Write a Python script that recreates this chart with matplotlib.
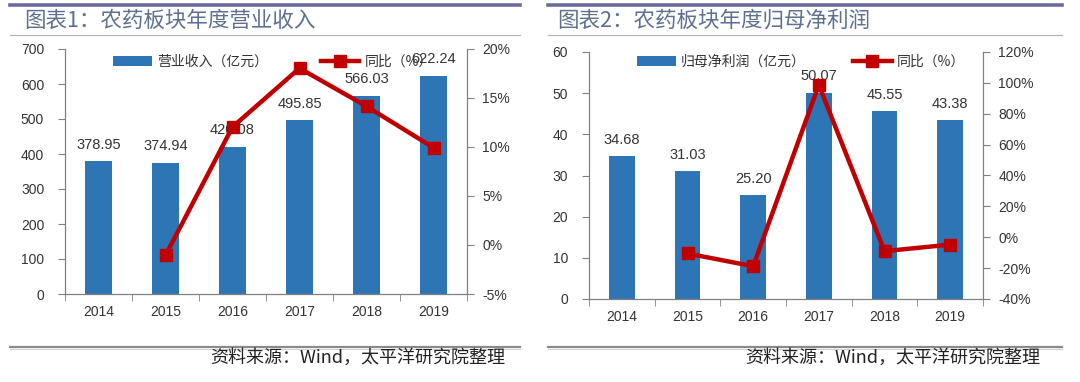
import matplotlib
matplotlib.use('Agg')
import matplotlib.pyplot as plt
from matplotlib.lines import Line2D
from matplotlib.ticker import FuncFormatter, MultipleLocator, FixedLocator
import numpy as np

plt.rcParams['font.family'] = ['Liberation Sans', 'Noto Sans CJK SC', 'DejaVu Sans']

# ---------------- data ----------------
years = ['2014', '2015', '2016', '2017', '2018', '2019']
revenue = [378.95, 374.94, 420.08, 495.85, 566.03, 622.24]
revenue_yoy = [np.nan, -1.06, 12.04, 18.04, 14.15, 9.93]
profit = [34.68, 31.03, 25.20, 50.07, 45.55, 43.38]
profit_yoy = [np.nan, -10.52, -18.79, 98.69, -9.03, -4.76]

titles = ['图表1：农药板块年度营业收入', '图表2：农药板块年度归母净利润']
bar_names = ['营业收入（亿元）', '归母净利润（亿元）']
line_name = '同比（%）'
source_text = '资料来源：Wind，太平洋研究院整理'

BAR_C = '#2e75b6'
LINE_C = '#c00000'
TITLE_C = '#5d7090'
TOP_C = '#6c6c9c'
GRID_GRAY = '#808080'
TXT = '#333333'

W, H = 1080, 382
fig = plt.figure(figsize=(W / 100, H / 100), dpi=100)


def px_axes(x0, y0, x1, y1):
    return fig.add_axes([x0 / W, 1 - y1 / H, (x1 - x0) / W, (y1 - y0) / H])


def hline(x0, x1, y, color, lw):
    fig.add_artist(Line2D([x0 / W, x1 / W], [1 - y / H, 1 - y / H],
                          transform=fig.transFigure, color=color, lw=lw))


def panel(box, bars, yoy, ylim, ystep, y2lim, y2step, title, bar_name,
          frame, title_x, src_right, leg_anchor, colsp):
    fx0, fx1 = frame
    # decorative lines
    hline(fx0, fx1, 4.5, TOP_C, 2.6)
    hline(fx0, fx1, 34.5, '#b0b0b0', 0.8)
    hline(fx0, fx1, 346.5, '#8a8a8a', 1.6)
    hline(fx0, fx1, 348.5, '#d0d0d0', 0.8)
    fig.text(title_x / W, 1 - 21 / H, title, fontsize=15.5, color=TITLE_C,
             va='center', ha='left', family=['Noto Sans CJK SC'])
    fig.text(src_right / W, 1 - 358 / H, source_text, fontsize=13, color='#222222',
             va='center', ha='right', family=['Noto Sans CJK SC'])

    ax = px_axes(*box)
    x = np.arange(len(years))
    b = ax.bar(x, bars, width=0.39, color=BAR_C, zorder=2, label=bar_name)
    for xi, v in zip(x, bars):
        ax.annotate(f'{v:.2f}', (xi, v), xytext=(0, 7), textcoords='offset points',
                    ha='center', va='bottom', fontsize=10.5, color=TXT)
    ax.set_xlim(-0.5, len(years) - 0.5)
    ax.set_ylim(*ylim)
    ax.yaxis.set_major_locator(MultipleLocator(ystep))
    ax.set_xticks(x)
    ax.set_xticklabels(years)
    ax.xaxis.set_minor_locator(FixedLocator(np.arange(-0.5, len(years), 1)))
    ax.tick_params(axis='x', which='major', length=0, pad=8, labelsize=10, labelcolor=TXT)
    ax.tick_params(axis='x', which='minor', length=5, color=GRID_GRAY, direction='out')
    ax.tick_params(axis='y', length=5, color=GRID_GRAY, labelsize=10, labelcolor=TXT, pad=10)
    for s in ['top', 'right']:
        ax.spines[s].set_visible(False)
    for s in ['left', 'bottom']:
        ax.spines[s].set_color(GRID_GRAY)
        ax.spines[s].set_linewidth(0.9)

    ax2 = ax.twinx()
    ln, = ax2.plot(x, yoy, color=LINE_C, lw=3.2, marker='s', markersize=8,
                   zorder=3, label=line_name)
    ax2.set_ylim(*y2lim)
    ax2.yaxis.set_major_locator(MultipleLocator(y2step))
    ax2.yaxis.set_major_formatter(FuncFormatter(lambda v, p: f'{v:.0f}%'))
    ax2.tick_params(axis='y', length=5, color=GRID_GRAY, labelsize=10, labelcolor=TXT, pad=6)
    for s in ['top', 'left', 'bottom']:
        ax2.spines[s].set_visible(False)
    ax2.spines['right'].set_color(GRID_GRAY)
    ax2.spines['right'].set_linewidth(0.9)

    leg = ax2.legend([b, ln], [bar_name, line_name], ncol=2, frameon=False,
                     loc='center left', bbox_to_anchor=leg_anchor,
                     borderpad=0, borderaxespad=0, handlelength=2.8,
                     handletextpad=0.35, columnspacing=colsp,
                     prop={'family': ['Noto Sans CJK SC'], 'size': 10})
    for t in leg.get_texts():
        t.set_color(TXT)
    return ax, ax2


panel((65, 49, 467, 294), revenue, revenue_yoy, (0, 700), 100, (-5, 20), 5,
      titles[0], bar_names[0], (10, 520), 24, 505, (48 / 402, 1 - 13 / 245), 3.8)
panel((589, 52, 983, 299), profit, profit_yoy, (0, 60), 10, (-40, 120), 20,
      titles[1], bar_names[1], (548, 1062), 557, 1040, (48 / 394, 1 - 10 / 247), 3.4)

fig.savefig('out.png', dpi=100)
